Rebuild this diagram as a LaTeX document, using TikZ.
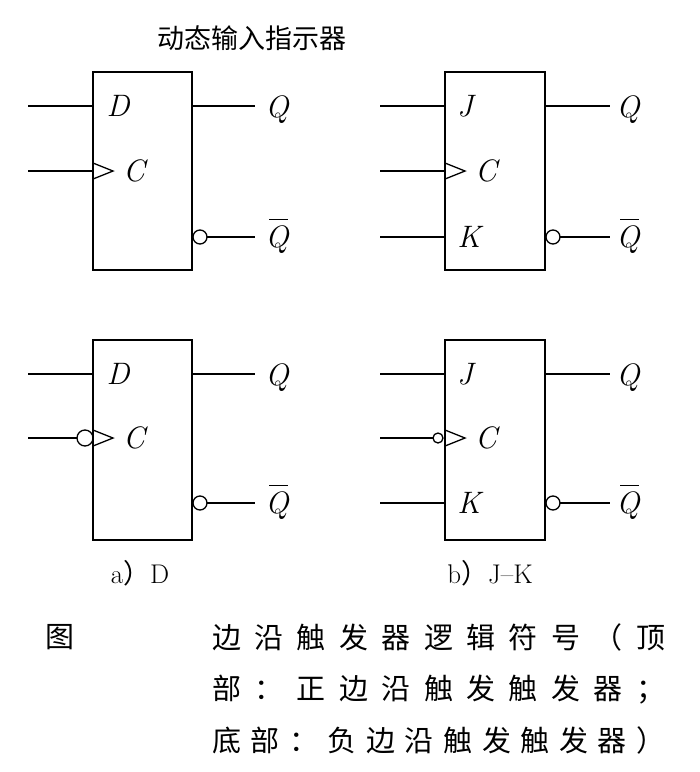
\documentclass[tikz,border=0pt]{standalone}
\usepackage{fontspec}
\newfontfamily\cjk{Noto Sans CJK SC}
\newcommand\qbar{\makebox[0pt][l]{\hspace{0.12em}\rule[0.88em]{0.6em}{1.2pt}}\textit{Q}}
\begin{document}
\begin{tikzpicture}[x=1pt,y=-1pt,
 box/.style={draw,line width=2pt},
 wire/.style={line width=1.3pt},
 lbl/.style={font=\fontsize{31}{31}\selectfont\itshape,inner sep=0pt},
 captxt/.style={font=\fontsize{27}{27}\selectfont,inner sep=0pt},
 cj/.style={font=\cjk\fontsize{29}{29}\selectfont,inner sep=0pt}]
\useasboundingbox (0,0) rectangle (700,772);
\node[cj,font=\cjk\fontsize{27}{27}\selectfont] (title) at (252,38) {动态输入指示器};
% ---- a top
\draw[box] (93,72) rectangle (192,270);
\draw[wire] (28,106) -- (93,106); \node[lbl] at (118,106) {D};
\draw[wire] (28,171) -- (93,171); \draw[wire] (93,163) -- (113,171) -- (93,179); \node[lbl] at (134,171) {C};
\draw[wire] (192,106) -- (255,106); \node[lbl] at (277,110) {Q};
\draw[wire] (200,237) circle (7); \draw[wire] (207,237) -- (255,237); \node[lbl] at (277,236) {\qbar};
% ---- b top
\draw[box] (445,72) rectangle (545,270);
\draw[wire] (380,106) -- (445,106); \node[lbl] at (465,106) {J};
\draw[wire] (380,171) -- (445,171); \draw[wire] (445,163) -- (465,171) -- (445,179); \node[lbl] at (486,171) {C};
\draw[wire] (380,237) -- (445,237); \node[lbl] at (469,237) {K};
\draw[wire] (545,106) -- (610,106); \node[lbl] at (628,110) {Q};
\draw[wire] (553,237) circle (7); \draw[wire] (560,237) -- (610,237); \node[lbl] at (628,236) {\qbar};
% ---- a bottom
\draw[box] (93,340) rectangle (192,540);
\draw[wire] (28,374) -- (93,374); \node[lbl] at (118,374) {D};
\draw[wire] (28,438) -- (77,438); \draw[wire] (85,438) circle (8); \draw[wire] (93,430) -- (113,438) -- (93,446); \node[lbl] at (134,438) {C};
\draw[wire] (192,374) -- (255,374); \node[lbl] at (277,378) {Q};
\draw[wire] (200,503) circle (7); \draw[wire] (207,503) -- (255,503); \node[lbl] at (277,502) {\qbar};
% ---- b bottom
\draw[box] (445,340) rectangle (545,540);
\draw[wire] (380,374) -- (445,374); \node[lbl] at (465,374) {J};
\draw[wire] (380,438) -- (433,438); \draw[wire] (438,438) circle (5); \draw[wire] (445,430) -- (465,438) -- (445,446); \node[lbl] at (486,438) {C};
\draw[wire] (380,503) -- (445,503); \node[lbl] at (469,503) {K};
\draw[wire] (545,374) -- (610,374); \node[lbl] at (628,378) {Q};
\draw[wire] (553,503) circle (7); \draw[wire] (560,503) -- (610,503); \node[lbl] at (628,502) {\qbar};
% captions
\node[captxt] (ca) at (140,573) {a{\cjk ）}D};
\node[captxt] (cb) at (490,573) {b{\cjk ）}J--K};
\node[cj] (fig) at (60,637) {图};
\node[cj,anchor=west] (l1) at (212,637) {\makebox[453pt][s]{边\hfill 沿\hfill 触\hfill 发\hfill 器\hfill 逻\hfill 辑\hfill 符\hfill 号\hfill （\hfill 顶}};
\node[cj,anchor=west] (l2) at (212,690) {\makebox[453pt][s]{部\hfill ：\hfill 正\hfill 边\hfill 沿\hfill 触\hfill 发\hfill 触\hfill 发\hfill 器\hfill ；}};
\node[cj,anchor=west] (l3) at (212,740) {\makebox[453pt][s]{底\hfill 部\hfill ：\hfill 负\hfill 边\hfill 沿\hfill 触\hfill 发\hfill 触\hfill 发\hfill 器\hfill ）}};
\end{tikzpicture}
\end{document}
